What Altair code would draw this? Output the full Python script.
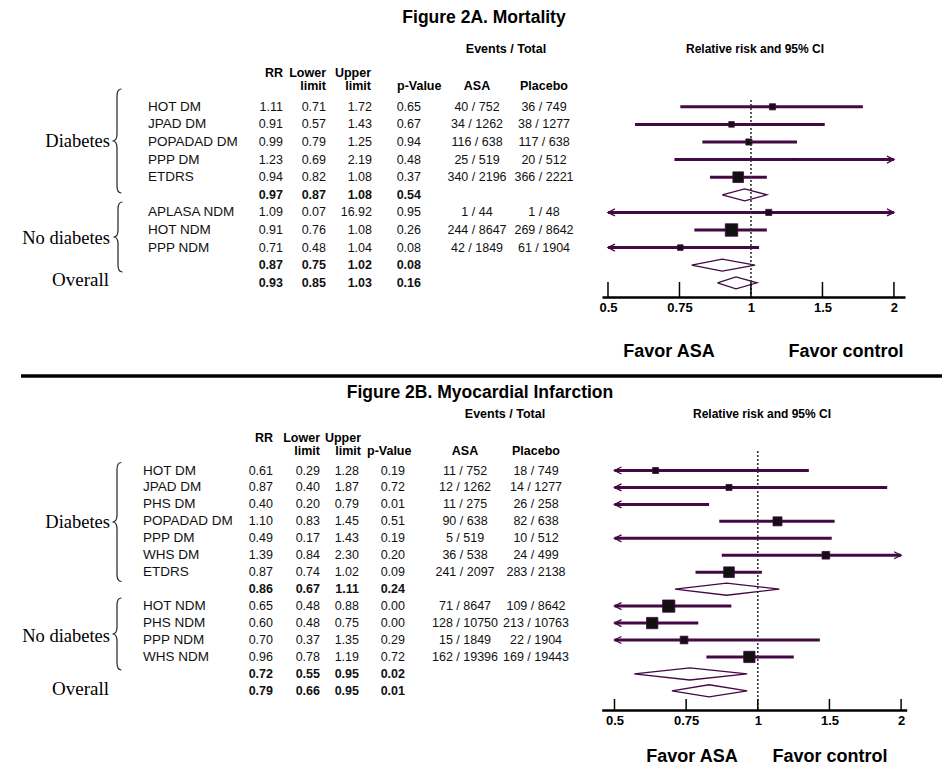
import json
import altair as alt
import pandas as pd

# ------------------------------------------------------------------ data
# Figure 2A. Mortality
A_labels = ["HOT DM", "JPAD DM", "POPADAD DM", "PPP DM", "ETDRS", "",
            "APLASA NDM", "HOT NDM", "PPP NDM", "", ""]
A_kind = ["study", "study", "study", "study", "study", "summary",
          "study", "study", "study", "summary", "summary"]
A_rr = [1.11, 0.91, 0.99, 1.23, 0.94, 0.97, 1.09, 0.91, 0.71, 0.87, 0.93]
A_lo = [0.71, 0.57, 0.79, 0.69, 0.82, 0.87, 0.07, 0.76, 0.48, 0.75, 0.85]
A_hi = [1.72, 1.43, 1.25, 2.19, 1.08, 1.08, 16.92, 1.08, 1.04, 1.02, 1.03]
A_p = [0.65, 0.67, 0.94, 0.48, 0.37, 0.54, 0.95, 0.26, 0.08, 0.08, 0.16]
A_asa = ["40 / 752", "34 / 1262", "116 / 638", "25 / 519", "340 / 2196", "",
         "1 / 44", "244 / 8647", "42 / 1849", "", ""]
A_pla = ["36 / 749", "38 / 1277", "117 / 638", "20 / 512", "366 / 2221", "",
         "1 / 48", "269 / 8642", "61 / 1904", "", ""]
A_weight = [8.4, 7.0, 8.4, 0.5, 25.6, None, 8.4, 34.9, 7.0, None, None]

# Figure 2B. Myocardial Infarction
B_labels = ["HOT DM", "JPAD DM", "PHS DM", "POPADAD DM", "PPP DM", "WHS DM", "ETDRS", "",
            "HOT NDM", "PHS NDM", "PPP NDM", "WHS NDM", "", ""]
B_kind = ["study"] * 7 + ["summary"] + ["study"] * 4 + ["summary", "summary"]
B_rr = [0.61, 0.87, 0.40, 1.10, 0.49, 1.39, 0.87, 0.86, 0.65, 0.60, 0.70, 0.96, 0.72, 0.79]
B_lo = [0.29, 0.40, 0.20, 0.83, 0.17, 0.84, 0.74, 0.67, 0.48, 0.48, 0.37, 0.78, 0.55, 0.66]
B_hi = [1.28, 1.87, 0.79, 1.45, 1.43, 2.30, 1.02, 1.11, 0.88, 0.75, 1.35, 1.19, 0.95, 0.95]
B_p = [0.19, 0.72, 0.01, 0.51, 0.19, 0.20, 0.09, 0.24, 0.00, 0.00, 0.29, 0.72, 0.02, 0.01]
B_asa = ["11 / 752", "12 / 1262", "11 / 275", "90 / 638", "5 / 519", "36 / 538", "241 / 2097", "",
         "71 / 8647", "128 / 10750", "15 / 1849", "162 / 19396", "", ""]
B_pla = ["18 / 749", "14 / 1277", "26 / 258", "82 / 638", "10 / 512", "24 / 499", "283 / 2138", "",
         "109 / 8642", "213 / 10763", "22 / 1904", "169 / 19443", "", ""]
B_weight = [4.3, 4.3, 4.7, 9.6, 1.4, 7.0, 13.5, None, 17.8, 15.2, 7.0, 15.2, None, None]

TICK_VALUES = [0.5, 0.7071, 1.0, 1.4142, 2.0]
TICK_LABELS = ["0.5", "0.75", "1", "1.5", "2"]
LIMIT_LO, LIMIT_HI = 0.5, 2.0
NULL_VALUE = 1.0

# ------------------------------------------------------------------ style
PURPLE = "#440844"
FONT = "Liberation Sans"
SERIF = "Liberation Serif"
W, H = 934, 766
NUM_SIZE = 12.5
HDR_SIZE = 12.5


def make_df(labels, kind, rr, lo, hi, p, asa, pla, w):
    return pd.DataFrame(dict(row=list(range(len(labels))), label=labels, kind=kind,
                             rr=rr, lo=lo, hi=hi, p=p, asa=asa, pla=pla, w=w))


def diamond_df(df, h):
    recs = []
    for _, r in df[df.kind == "summary"].iterrows():
        pts = [(r.lo, r.row), (r.rr, r.row - h), (r.hi, r.row), (r.rr, r.row + h), (r.lo, r.row)]
        for i, (x, y) in enumerate(pts):
            recs.append(dict(g=int(r.row), o=i, x=x, y=y))
    return pd.DataFrame(recs)


def brace_path(h_px, tip=4.5, curl=4.5, bend=7.0):
    r = h_px / 2.0
    t, c, b = tip / r, curl / r, bend / r
    return (f"M {c:.4f} -1 Q 0 -1 0 {-(1 - b):.4f} L 0 {-b:.4f} Q 0 0 {-t:.4f} 0 "
            f"Q 0 0 0 {b:.4f} L 0 {1 - b:.4f} Q 0 1 {c:.4f} 1")


ONE = pd.DataFrame({"k": [0]})


def txt(s, x, y, size=13, weight="normal", align="center", font=FONT, color="black", baseline="middle"):
    return alt.Chart(ONE).mark_text(font=font, fontSize=size, fontWeight=weight, align=align,
                                    baseline=baseline, color=color).encode(
        x=alt.value(x), y=alt.value(y), text=alt.value(s))


LABEL_EXPR = f"{json.dumps(TICK_LABELS)}[indexof({json.dumps(TICK_VALUES)}, datum.value)]"


def panel(df, cfg):
    ysc = alt.Scale(domain=[0, len(df) - 1], range=cfg["yrange"])
    xsc = alt.Scale(type="log", domain=cfg["xdom"], range=cfg["xrange"])
    xax = alt.Axis(orient="bottom", offset=cfg["axis_y"] - H, values=TICK_VALUES, labelExpr=LABEL_EXPR,
                   ticks=False, grid=False, domainColor="black", domainWidth=2.5, labelFont=FONT,
                   labelFontWeight="bold", labelFontSize=13, labelColor="black", labelPadding=4,
                   labelFlush=False, labelOverlap=False, title=None)
    sizesc = alt.Scale(domain=[0, cfg["wmax"]], range=[0, cfg["amax"]])

    def Y(f="row"):
        return alt.Y(f"{f}:Q", scale=ysc, axis=None)

    def X(f):
        return alt.X(f"{f}:Q", scale=xsc, axis=xax)

    base = alt.Chart(df)
    study = base.transform_filter("datum.kind == 'study'")
    summ = base.transform_filter("datum.kind == 'summary'")
    cx = cfg["cols"]
    layers = []
    # ---- table
    layers.append(study.mark_text(align="left", baseline="middle", font=FONT, fontSize=13.5, color="#111").encode(
        x=alt.value(cx["name"]), y=Y(), text="label:N"))
    for f in ["rr", "lo", "hi", "p"]:
        layers.append(study.mark_text(align="right", baseline="middle", font=FONT, fontSize=NUM_SIZE,
                                      color="#111").encode(
            x=alt.value(cx[f]), y=Y(), text=alt.Text(f"{f}:Q", format=".2f")))
        layers.append(summ.mark_text(align="right", baseline="middle", font=FONT, fontSize=NUM_SIZE,
                                     fontWeight="bold", color="#111").encode(
            x=alt.value(cx[f]), y=Y(), text=alt.Text(f"{f}:Q", format=".2f")))
    for f in ["asa", "pla"]:
        layers.append(study.mark_text(align="center", baseline="middle", font=FONT, fontSize=NUM_SIZE,
                                      color="#111").encode(
            x=alt.value(cx[f]), y=Y(), text=f"{f}:N"))
    # ---- forest
    clipped = study.transform_calculate(lo_c=f"max(datum.lo, {LIMIT_LO})", hi_c=f"min(datum.hi, {LIMIT_HI})")
    layers.append(clipped.mark_rule(color=PURPLE, strokeWidth=3).encode(x=X("lo_c"), x2="hi_c:Q", y=Y()))
    layers.append(clipped.transform_filter(f"datum.lo < {LIMIT_LO}").mark_point(
        shape="M 1 -0.5 L 0 0 L 1 0.5", filled=False, size=196, color=PURPLE, strokeWidth=1.3, opacity=1).encode(
        x=X("lo_c"), y=Y()))
    layers.append(clipped.transform_filter(f"datum.hi > {LIMIT_HI}").mark_point(
        shape="M -1 -0.5 L 0 0 L -1 0.5", filled=False, size=196, color=PURPLE, strokeWidth=1.3, opacity=1).encode(
        x=X("hi_c"), y=Y()))
    layers.append(study.transform_filter(f"datum.rr >= {LIMIT_LO} && datum.rr <= {LIMIT_HI}").mark_square(
        color="#111111", opacity=1, stroke=PURPLE, strokeWidth=0.8).encode(
        x=X("rr"), y=Y(), size=alt.Size("w:Q", scale=sizesc, legend=None)))
    layers.append(alt.Chart(diamond_df(df, cfg["dh"])).mark_line(color=PURPLE, strokeWidth=1.3).encode(
        x=X("x"), y=Y("y"), detail="g:N", order="o:Q"))
    layers.append(alt.Chart(pd.DataFrame({"v": [NULL_VALUE]})).mark_rule(
        color="#333333", strokeWidth=1.6, strokeDash=[2, 2]).encode(
        x=X("v"), y=alt.value(cfg["null_top"]), y2=alt.value(cfg["axis_y"])))
    layers.append(alt.Chart(pd.DataFrame({"t": TICK_VALUES})).mark_rule(color="black", strokeWidth=1.5).encode(
        x=X("t"), y=alt.value(cfg["axis_y"] - cfg["tick"]), y2=alt.value(cfg["axis_y"])))
    # ---- decorations
    h = cfg["hdr"]
    layers += [
        txt(cfg["title"], cfg["title_x"], cfg["title_y"], size=17.5, weight="bold"),
        txt("Events / Total", cfg["ev_x"], cfg["ev_y"], size=HDR_SIZE, weight="bold"),
        txt("Relative risk and 95% CI", cfg["rr_title_x"], cfg["ev_y"], size=12, weight="bold"),
        txt("RR", cx["rr"], h[0], size=HDR_SIZE, weight="bold", align="right"),
        txt("Lower", cx["lo"], h[0], size=HDR_SIZE, weight="bold", align="right"),
        txt("limit", cx["lo"], h[1], size=HDR_SIZE, weight="bold", align="right"),
        txt("Upper", cx["hi_h"], h[0], size=HDR_SIZE, weight="bold", align="right"),
        txt("limit", cx["hi_h"], h[1], size=HDR_SIZE, weight="bold", align="right"),
        txt("p-Value", cx["p_h"], h[1], size=HDR_SIZE, weight="bold", align="left"),
        txt("ASA", cx["asa"], h[1], size=HDR_SIZE, weight="bold"),
        txt("Placebo", cx["pla"], h[1], size=HDR_SIZE, weight="bold"),
        txt("Favor ASA", cfg["fav"][0], cfg["fav_y"], size=18, weight="bold"),
        txt("Favor control", cfg["fav"][1], cfg["fav_y"], size=18, weight="bold"),
        txt("Diabetes", 102, cfg["grp_y"][0], size=18.5, font=SERIF, align="right"),
        txt("No diabetes", 102, cfg["grp_y"][1], size=18.5, font=SERIF, align="right"),
        txt("Overall", 101, cfg["grp_y"][2], size=19, font=SERIF, align="right"),
    ]
    for (bx, by, bh) in cfg["braces"]:
        layers.append(alt.Chart(ONE).mark_point(shape=brace_path(bh), size=bh * bh, filled=False,
                                                 color="#222222", strokeWidth=1.2, opacity=1).encode(
            x=alt.value(bx), y=alt.value(by)))
    return alt.layer(*layers)


cfgA = dict(
    yrange=[98.8, 274.8], xdom=[0.4857, 2.11], xrange=[594, 897], axis_y=289, tick=15, null_top=92,
    wmax=35, amax=156, dh=0.34,
    cols=dict(name=140, rr=275, lo=318, hi=364, hi_h=363, p=413, p_h=389, asa=469, pla=536),
    hdr=[64.7, 78], title="Figure 2A. Mortality", title_x=476, title_y=10, ev_x=498, ev_y=41,
    rr_title_x=747, fav=[661, 838], fav_y=344, grp_y=[132.5, 230, 272],
    braces=[(109, 133, 104), (110, 229, 70)],
)
cfgB = dict(
    yrange=[462.5, 682.85], xdom=[0.470, 2.055], xrange=[593.7, 898.7], axis_y=702, tick=11, null_top=443,
    wmax=17.8, amax=150, dh=0.36,
    cols=dict(name=135, rr=265, lo=312, hi=351, hi_h=353, p=397, p_h=359, asa=457, pla=528),
    hdr=[429.7, 443], title="Figure 2B. Myocardial Infarction", title_x=472, title_y=385, ev_x=497, ev_y=406,
    rr_title_x=754, fav=[684, 822], fav_y=749, grp_y=[514, 627.7, 681],
    braces=[(109, 514, 119), (109, 626, 72)],
)

dfA = make_df(A_labels, A_kind, A_rr, A_lo, A_hi, A_p, A_asa, A_pla, A_weight)
dfB = make_df(B_labels, B_kind, B_rr, B_lo, B_hi, B_p, B_asa, B_pla, B_weight)

separator = alt.Chart(ONE).mark_rule(color="black", strokeWidth=3.5).encode(
    x=alt.value(13), x2=alt.value(934), y=alt.value(368))

chart = alt.layer(panel(dfA, cfgA), panel(dfB, cfgB), separator).resolve_scale(
    x="independent", y="independent", size="independent"
).properties(
    width=W, height=H, padding=0, autosize=alt.AutoSizeParams(type="none"), background="white"
).configure_view(stroke=None)

chart.save("out.html", embed_options={"renderer": "svg", "actions": False})
